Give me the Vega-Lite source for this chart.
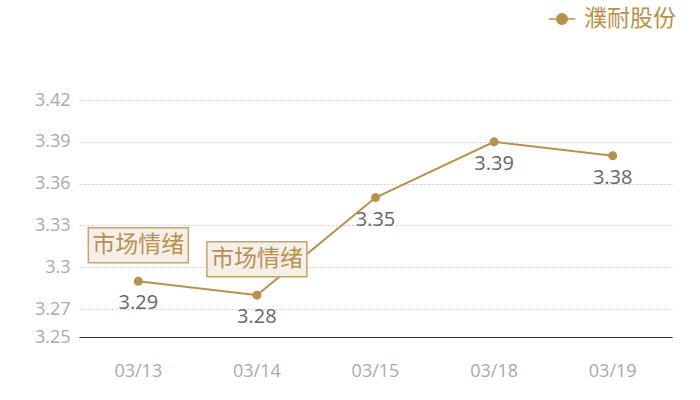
{
  "$schema": "https://vega.github.io/schema/vega-lite/v6.json",
  "width": 593,
  "height": 237,
  "autosize": "none",
  "padding": {"left": 79, "top": 100, "right": 28, "bottom": 63},
  "background": "#ffffff",
  "config": {
    "view": {"stroke": null},
    "font": "Noto Sans CJK SC"
  },
  "data": {
    "values": [
      {"date": "03/13", "value": 3.29, "series": "濮耐股份", "note": "市场情绪"},
      {"date": "03/14", "value": 3.28, "series": "濮耐股份", "note": "市场情绪"},
      {"date": "03/15", "value": 3.35, "series": "濮耐股份", "note": null},
      {"date": "03/18", "value": 3.39, "series": "濮耐股份", "note": null},
      {"date": "03/19", "value": 3.38, "series": "濮耐股份", "note": null}
    ]
  },
  "encoding": {
    "x": {
      "field": "date",
      "type": "ordinal",
      "scale": {"type": "band", "paddingInner": 0, "paddingOuter": 0},
      "axis": {
        "title": null,
        "labelAngle": 0,
        "labelColor": "#aaaaaa",
        "labelFontSize": 18,
        "labelFont": "Open Sans",
        "labelPadding": 25,
        "ticks": false,
        "domainColor": "#333333",
        "domainWidth": 1.2,
        "grid": false
      }
    },
    "y": {
      "field": "value",
      "type": "quantitative",
      "scale": {"domain": [3.25, 3.42], "zero": false, "nice": false},
      "axis": {
        "title": null,
        "values": [3.25, 3.27, 3.3, 3.33, 3.36, 3.39, 3.42],
        "format": "~g",
        "labelColor": "#aaaaaa",
        "labelFontSize": 18,
        "labelFont": "Open Sans",
        "labelPadding": 9,
        "ticks": false,
        "domain": false,
        "grid": true,
        "gridColor": "#cccccc",
        "gridDash": [2, 2],
        "gridWidth": 1
      }
    }
  },
  "layer": [
    {
      "mark": {"type": "line", "strokeWidth": 2},
      "encoding": {
        "color": {
          "field": "series",
          "type": "nominal",
          "scale": {"range": ["#b8914f"]},
          "legend": {
            "title": null,
            "orient": "none",
            "legendX": 469,
            "legendY": -95,
            "labelColor": "#b8914f",
            "labelFontSize": 23,
            "labelFont": "Noto Sans CJK SC",
            "symbolType": "M-1,0H-0.4M0.4,0H1M0.4,0A0.4,0.4,0,1,1,-0.4,0A0.4,0.4,0,1,1,0.4,0Z",
            "symbolSize": 700,
            "symbolStrokeWidth": 1.5,
            "symbolFillColor": "#b8914f",
            "labelOffset": 8
          }
        }
      }
    },
    {
      "mark": {"type": "point", "filled": true, "size": 80, "opacity": 1, "color": "#b8914f"}
    },
    {
      "mark": {"type": "text", "dy": 22, "fontSize": 20, "font": "Open Sans", "color": "#666666", "baseline": "middle"},
      "encoding": {"text": {"field": "value", "type": "quantitative", "format": ".2f"}}
    },
    {
      "transform": [{"filter": "datum.note != null"}],
      "mark": {
        "type": "point",
        "shape": "M-1,-0.35H1V0.35H-1Z",
        "size": 10000,
        "filled": true,
        "fill": "#f4efe8",
        "stroke": "#c9a46a",
        "strokeWidth": 1.5,
        "opacity": 1,
        "yOffset": -36
      }
    },
    {
      "transform": [{"filter": "datum.note != null"}],
      "mark": {"type": "text", "yOffset": -36, "fontSize": 23, "color": "#b8914f", "baseline": "middle"},
      "encoding": {"text": {"field": "note"}}
    }
  ]
}
